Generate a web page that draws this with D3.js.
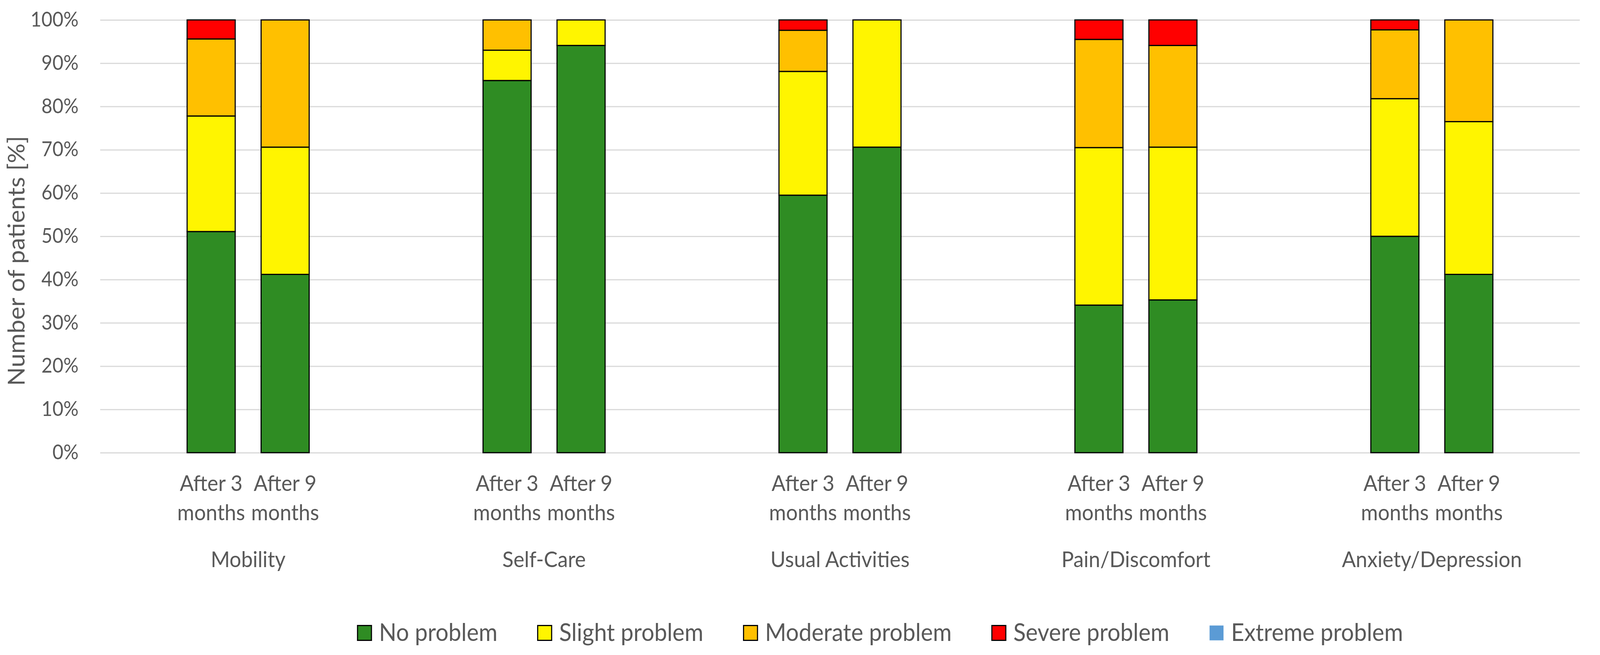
<!DOCTYPE html>
<html>
<head>
<meta charset="utf-8">
<script src="https://cdn.jsdelivr.net/npm/d3@7"></script>
<style>
  html, body { margin: 0; padding: 0; width: 100%; height: 100%; overflow: hidden; background: #fff; }
  .chart { width: 100vw; height: 100vh; }
  svg { display: block; }
  text { font-family: Lato, "Noto Sans", sans-serif; fill: #595959; }
</style>
</head>
<body>
<div class="chart"></div>
<script>
// EQ-5D dimensions, two follow-ups each
const dimensions = ["Mobility", "Self-Care", "Usual Activities", "Pain/Discomfort", "Anxiety/Depression"];
const timepoints = ["After 3 months", "After 9 months"];
const levels = ["No problem", "Slight problem", "Moderate problem", "Severe problem", "Extreme problem"];
const levelColors = ["#2F8C23", "#FFF500", "#FFC000", "#FF0000", "#5B9BD5"];
const yTicks = [0, 10, 20, 30, 40, 50, 60, 70, 80, 90, 100];

// percent of patients, order: dimension x timepoint
const noProblem       = [51.1, 41.2, 86.0, 94.1, 59.5, 70.6, 34.1, 35.3, 50.0, 41.2];
const slightProblem   = [26.7, 29.4,  7.0,  5.9, 28.6, 29.4, 36.4, 35.3, 31.8, 35.3];
const moderateProblem = [17.8, 29.4,  7.0,  0.0,  9.5,  0.0, 25.0, 23.5, 15.9, 23.5];
const severeProblem   = [ 4.4,  0.0,  0.0,  0.0,  2.4,  0.0,  4.5,  5.9,  2.3,  0.0];
const extremeProblem  = [ 0.0,  0.0,  0.0,  0.0,  0.0,  0.0,  0.0,  0.0,  0.0,  0.0];

const series = [noProblem, slightProblem, moderateProblem, severeProblem, extremeProblem];

const rows = [];
dimensions.forEach((dim, i) => {
  timepoints.forEach((tp, j) => {
    const k = i * timepoints.length + j;
    const row = {dimension: dim, timepoint: tp};
    levels.forEach((lv, l) => { row[lv] = series[l][k]; });
    rows.push(row);
  });
});

const W = 4360, H = 1677;
const margin = {top: 51, right: 55, bottom: 518, left: 273};
const width = W - margin.left - margin.right,
    height = H - margin.top - margin.bottom;

const root = d3.select(".chart").append("svg")
  .attr("viewBox", "0 0 " + W + " " + H)
  .attr("preserveAspectRatio", "none")
  .attr("width", "100%")
  .attr("height", "100%");

// font size that makes `sample` come out `target` px wide
function fitSize(sample, target) {
  const t = root.append("text").attr("font-size", 100).text(sample);
  const len = t.node().getComputedTextLength();
  t.remove();
  return 100 * target / len;
}

const tickSize = fitSize("100%", 131);
const catSize = fitSize("Mobility", 204);
const legendSize = fitSize("No problem", 323);
const titleSize = fitSize("Number of patients [%]", 640);

const svg = root.append("g")
  .attr("transform", "translate(" + margin.left + "," + margin.top + ")");

const xScale = d3.scaleBand()
  .domain(dimensions)
  .range([0, width]);

// four slots per group, bars in the middle two
const xInner = d3.scaleBand()
  .domain(timepoints)
  .range([0, xScale.bandwidth()])
  .paddingInner(0.35)
  .paddingOuter(1.175);

const yScale = d3.scaleLinear()
  .domain([0, 100])
  .range([height, 0]);

const color = d3.scaleOrdinal().domain(levels).range(levelColors);

// gridlines
svg.append("g")
  .attr("class", "grid")
  .call(d3.axisLeft(yScale).tickValues(yTicks).tickSize(-width).tickFormat(""))
  .call(g => g.select(".domain").remove())
  .call(g => g.selectAll("line").attr("stroke", "#D9D9D9").attr("stroke-width", 3));

// y tick labels
svg.append("g")
  .attr("class", "yAxis")
  .call(d3.axisLeft(yScale).tickValues(yTicks).tickSize(0).tickPadding(59).tickFormat(d => d + "%"))
  .call(g => g.select(".domain").remove())
  .call(g => g.selectAll("text")
    .attr("font-size", tickSize)
    .attr("fill", "#595959")
    .attr("font-family", "Lato, 'Noto Sans', sans-serif"));

const stacked = d3.stack().keys(levels)(rows);

svg.selectAll(".layer")
  .data(stacked)
  .enter()
  .append("g")
  .attr("class", "layer")
  .attr("fill", d => color(d.key))
  .selectAll("rect")
  .data(d => d.filter(s => s[1] - s[0] > 0))
  .enter()
  .append("rect")
  .attr("x", d => xScale(d.data.dimension) + xInner(d.data.timepoint))
  .attr("y", d => yScale(d[1]))
  .attr("width", xInner.bandwidth())
  .attr("height", d => yScale(d[0]) - yScale(d[1]))
  .attr("stroke", "#000")
  .attr("stroke-width", 3);

// category labels (two lines) and group labels
const groups = svg.selectAll(".group")
  .data(dimensions)
  .enter()
  .append("g")
  .attr("class", "group")
  .attr("transform", d => "translate(" + xScale(d) + ",0)");

groups.selectAll(".tp")
  .data(timepoints)
  .enter()
  .append("text")
  .attr("class", "tp")
  .attr("text-anchor", "middle")
  .attr("font-size", catSize)
  .each(function(d) {
    const cx = xInner(d) + xInner.bandwidth() / 2;
    const parts = d.split(" ");
    const t = d3.select(this);
    t.append("tspan").attr("x", cx).attr("y", height + 98).text(parts[0] + " " + parts[1]);
    t.append("tspan").attr("x", cx).attr("y", height + 173).text(parts[2]);
  });

groups.append("text")
  .attr("text-anchor", "middle")
  .attr("font-size", catSize)
  .attr("x", xScale.bandwidth() / 2)
  .attr("y", height + 293)
  .text(d => d);

// y title
root.append("text")
  .attr("transform", "translate(67,668) rotate(-90)")
  .attr("text-anchor", "middle")
  .attr("font-size", titleSize)
  .text("Number of patients [%]");

// legend
const legend = root.append("g").attr("class", "legend");
const items = legend.selectAll(".item")
  .data(levels)
  .enter()
  .append("g")
  .attr("class", "item");

items.append("rect")
  .attr("x", 1.5)
  .attr("y", 1601.5)
  .attr("width", 38)
  .attr("height", 38)
  .attr("fill", d => color(d))
  .attr("stroke", d => d == "Extreme problem" ? "none" : "#000")
  .attr("stroke-width", 3);

items.append("text")
  .attr("x", 60)
  .attr("y", 1641)
  .attr("font-size", legendSize)
  .text(d => d);

let pos = 0;
const offsets = [];
items.each(function() {
  offsets.push(pos);
  const w = d3.select(this).select("text").node().getComputedTextLength();
  pos += 60 + w + 108;
});
const total = pos - 108;
const startX = 2398 - total / 2;
items.attr("transform", (d, i) => "translate(" + (startX + offsets[i]) + ",0)");
</script>
</body>
</html>
